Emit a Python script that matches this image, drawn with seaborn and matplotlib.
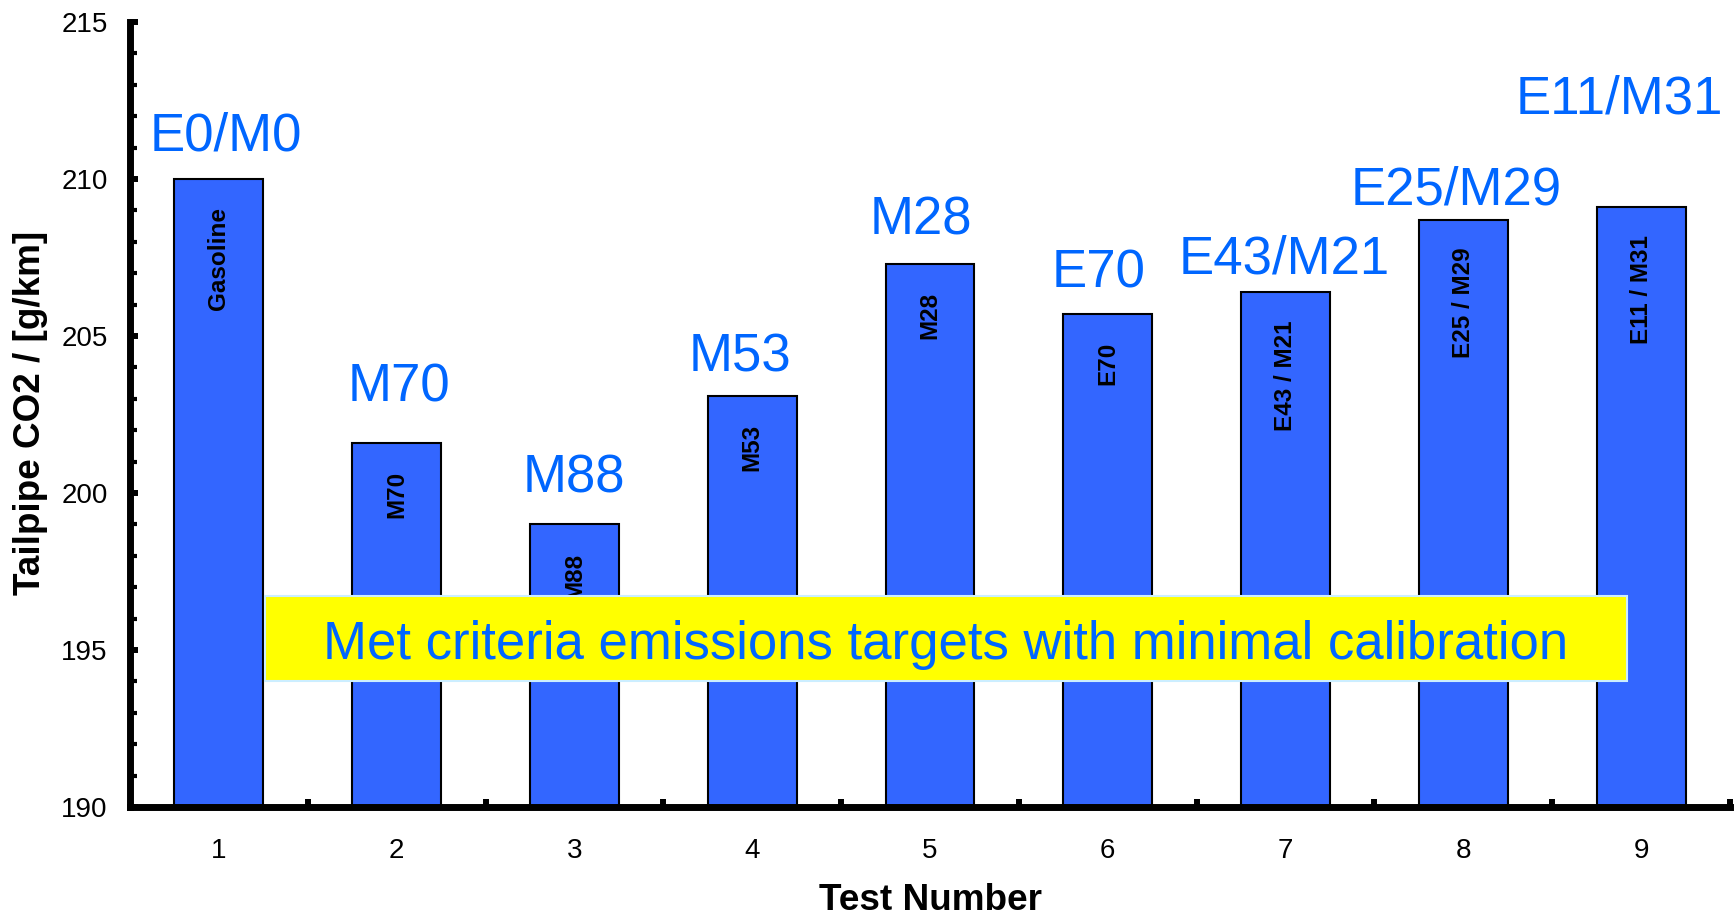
import matplotlib
matplotlib.use("Agg")
import matplotlib.pyplot as plt
from matplotlib.patches import Rectangle
from matplotlib.ticker import MultipleLocator, FixedLocator
import pandas as pd
import seaborn as sns

# Test results
test_numbers = ["1", "2", "3", "4", "5", "6", "7", "8", "9"]
co2_values = [210.0, 201.6, 199.0, 203.1, 207.3, 205.7, 206.4, 208.7, 209.1]
bar_labels = ["Gasoline", "M70", "M88", "M53", "M28", "E70",
              "E43 / M21", "E25 / M29", "E11 / M31"]
blend_labels = ["E0/M0", "M70", "M88", "M53", "M28", "E70",
                "E43/M21", "E25/M29", "E11/M31"]
callout_text = "Met criteria emissions targets with minimal calibration"

# Layout of the big blend captions (baseline offset above each bar, x shift)
caption_dy = [0.91, 1.32, 1.03, 0.77, 0.94, 0.85, 0.60, 0.49, 2.97]
caption_dx = [0.04, 0.01, -0.004, -0.07, -0.05, -0.05, -0.01, -0.04, -0.124]

sns.set_style("ticks")
plt.rcParams["font.family"] = ["Liberation Sans", "DejaVu Sans"]
plt.rcParams["text.color"] = "black"
plt.rcParams["axes.labelcolor"] = "black"

BAR_BLUE = "#3366FF"
TEXT_BLUE = "#0066FF"

df = pd.DataFrame({"test": test_numbers, "co2": co2_values})

fig = plt.figure(figsize=(17.34, 9.15), dpi=100)
ax = fig.add_axes([0.075, 0.118, 0.9227, 0.858])

sns.barplot(data=df, x="test", y="co2", order=test_numbers, color=BAR_BLUE,
            saturation=1, width=0.5, edgecolor="black", linewidth=1.5, ax=ax)

ax.set_ylim(190, 215)
ax.set_xlim(-0.5, len(test_numbers) - 0.5)

# spines
for side in ("top", "right"):
    ax.spines[side].set_visible(False)
for side in ("left", "bottom"):
    ax.spines[side].set_linewidth(5)
    ax.spines[side].set_color("black")
    ax.spines[side].set_capstyle("projecting")

# y ticks: majors every 5, minors every 1, pointing inward
ax.yaxis.set_major_locator(MultipleLocator(5))
ax.yaxis.set_minor_locator(MultipleLocator(1))
ax.tick_params(axis="y", which="major", direction="in", length=6, width=4.3,
               labelsize=20, pad=16, colors="black")
ax.tick_params(axis="y", which="minor", direction="in", length=5, width=3,
               colors="black")

# x ticks: labels at bar centers, tick marks between bars
ax.xaxis.set_major_locator(FixedLocator(range(len(test_numbers))))
ax.set_xticklabels(test_numbers)
ax.xaxis.set_minor_locator(FixedLocator([i + 0.5 for i in range(len(test_numbers))]))
ax.tick_params(axis="x", which="major", length=0, labelsize=20, pad=22,
               colors="black")
ax.tick_params(axis="x", which="minor", direction="in", length=6, width=4.3,
               colors="black")

ax.set_xlabel("Test Number", fontsize=26.6, fontweight="bold", color="black")
ax.set_ylabel("Tailpipe CO2 / [g/km]", fontsize=26.6, fontweight="bold",
              color="black", va="center")
ax.xaxis.set_label_coords(0.5, -0.097)
ax.yaxis.set_label_coords(-0.062, 0.502)

# labels inside the bars
for i, (val, lab) in enumerate(zip(co2_values, bar_labels)):
    ax.annotate(lab, xy=(i, val), xytext=(0, -28), textcoords="offset pixels",
                rotation=90, ha="center", va="top", fontsize=17.5,
                fontweight="bold", color="black")

# blend captions above the bars
for i, (val, lab) in enumerate(zip(co2_values, blend_labels)):
    ax.text(i + caption_dx[i], val + caption_dy[i], lab, ha="center",
            va="baseline", fontsize=38, color=TEXT_BLUE)

# callout box
ax.add_patch(Rectangle((0.0844, 0.1605), 0.8512, 0.1083,
                       transform=ax.transAxes, facecolor="#FFFF00",
                       edgecolor="#CCEEFF", linewidth=1.5, zorder=5))
ax.text(0.5097, 0.1885, callout_text, transform=ax.transAxes, ha="center",
        va="baseline", fontsize=38, color=TEXT_BLUE, zorder=6)

fig.savefig("out.png", dpi=100)
